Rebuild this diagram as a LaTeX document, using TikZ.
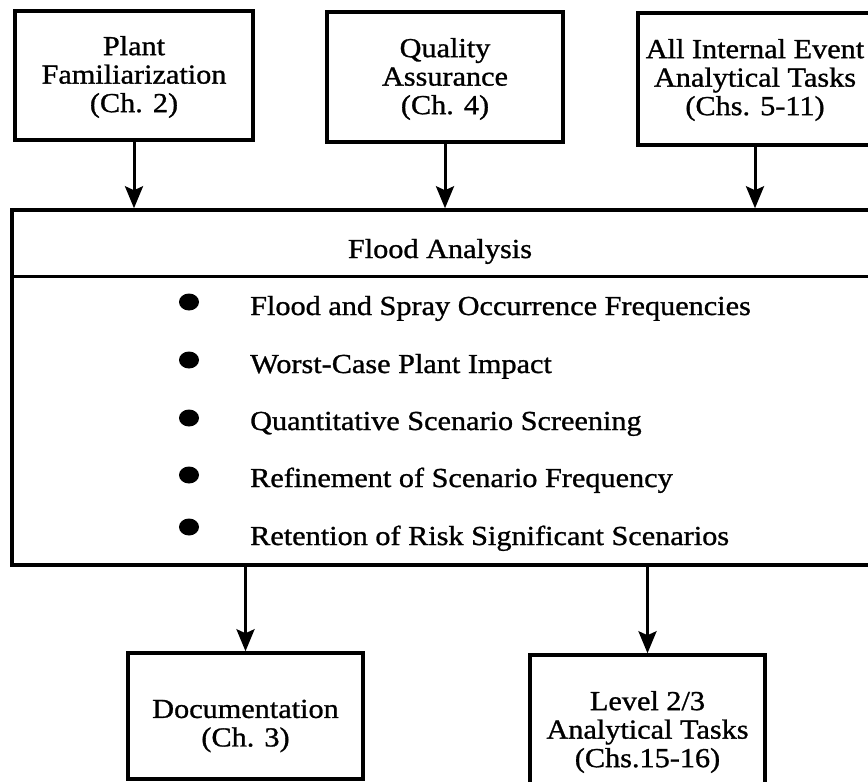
\documentclass[tikz,border=0pt]{standalone}
\usepackage{fontspec}
\setmainfont{Liberation Serif}[FakeStretch=1.1,FakeBold=1.0]
\usetikzlibrary{arrows.meta,shapes.geometric}

\tikzset{
  every node/.style={font=\fontsize{27.5}{28.5}\selectfont},
  taskbox/.style={draw, line width=3.5pt, rectangle, inner sep=0pt},
  boxtext/.style={align=center, inner sep=0pt},
  flow/.style={line width=3pt, -{Stealth[length=22pt,width=18pt,inset=4pt]}},
  dot/.style={ellipse, fill=black, draw=none, minimum width=20pt, minimum height=17pt, inner sep=0pt},
  item/.style={anchor=base west, inner sep=0pt},
}

\begin{document}
\begin{tikzpicture}[x=1pt,y=-1pt]
  \useasboundingbox (0,0) rectangle (868,782);
  \clip (0,0) rectangle (868,782);
  \fill[white] (0,0) rectangle (868,782);

  % input tasks
  \node[taskbox, minimum width=238pt, minimum height=129pt] (plant) at (134,75.5) {};
  \node[boxtext] (plantlbl) at (134,77) {Plant\\Familiarization\\(Ch. 2)};
  \node[taskbox, minimum width=236pt, minimum height=130pt] (qa) at (445,77) {};
  \node[boxtext] (qalbl) at (445,79) {Quality\\Assurance\\(Ch. 4)};
  \node[taskbox, minimum width=234pt, minimum height=132pt] (internal) at (755,79) {};
  \node[boxtext] (internallbl) at (755,80) {All Internal Event\\Analytical Tasks\\(Chs. 5-11)};

  % flood analysis block
  \node[draw, line width=3.5pt, rectangle, inner sep=0pt,
        minimum width=860pt, minimum height=355pt] (flood) at (442,387.5) {};
  \draw[line width=3pt] ([yshift=-68pt]flood.north west) -- ([yshift=-68pt]flood.north east);
  \node[anchor=base, inner sep=0pt] (title) at (440,258) {Flood Analysis};

  \node[dot] (b1) at (189,302) {};
  \node[dot] (b2) at (189,360) {};
  \node[dot] (b3) at (189,418) {};
  \node[dot] (b4) at (189,475) {};
  \node[dot] (b5) at (189,527) {};
  \node[item] (t1) at (250,315) {Flood and Spray Occurrence Frequencies};
  \node[item] (t2) at (250,373) {Worst-Case Plant Impact};
  \node[item] (t3) at (250,430) {Quantitative Scenario Screening};
  \node[item] (t4) at (250,487) {Refinement of Scenario Frequency};
  \node[item] (t5) at (250,545) {Retention of Risk Significant Scenarios};

  % output tasks
  \node[taskbox, minimum width=235pt, minimum height=126pt] (doc) at (245.5,716) {};
  \node[boxtext] (doclbl) at (245.5,726) {Documentation\\(Ch. 3)};
  \node[taskbox, minimum width=235pt, minimum height=150pt] (level) at (647.5,730) {};
  \node[boxtext] (levellbl) at (647.5,732) {Level 2/3\\Analytical Tasks\\(Chs.15-16)};

  % connectors
  \draw[flow] (plant.south) -- (plant.south |- flood.north);
  \draw[flow] (qa.south) -- (qa.south |- flood.north);
  \draw[flow] (internal.south) -- (internal.south |- flood.north);
  \draw[flow] (flood.south -| doc.north) -- (doc.north);
  \draw[flow] (flood.south -| level.north) -- (level.north);
\end{tikzpicture}
\end{document}
